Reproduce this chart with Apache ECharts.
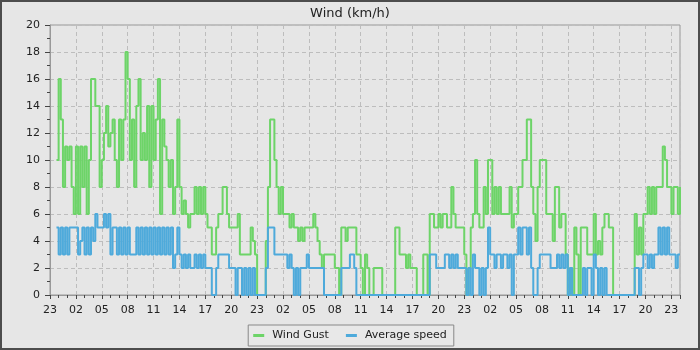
<!DOCTYPE html>
<html><head><meta charset="utf-8">
<script src="https://cdn.jsdelivr.net/npm/echarts@6/dist/echarts.min.js"></script>
<style>html,body{margin:0;padding:0;background:#e6e6e6}#c{width:700px;height:350px}</style>
</head><body><div id="c"></div>
<script>
// x is in hours after 23:00 of the first day
const startHour = 0.75;
const stepHours = 0.25;
const xMin = 0, xMax = 73;
const xTickLabels = ['23','02','05','08','11','14','17','20','23','02','05','08','11','14','17','20','23','02','05','08','11','14','17','20','23'];
const seriesNames = ['Wind Gust', 'Average speed'];

const gustValues = [
  10,
  16,13,8,11, 10,11,8,6, 11,6,11,8, 11,6,10,16, 16,14,14,8, 10,12,14,11,
  12,13,10,8, 13,10,13,18, 16,10,13,8, 14,16,10,12, 10,14,8,14, 10,13,16,6,
  13,11,10,8, 10,6,8,13, 8,6,7,6, 5,6,6,8, 6,8,6,8, 6,5,5,3,
  3,5,6,6, 8,8,6,5, 5,5,5,6, 3,3,3,3, 3,5,4,3,
  0,0,0,0, 4,8,13,13, 10,8,6,8, 6,6,6,5, 6,5,5,4, 5,4,5,5,
  5,5,6,5, 4,3,2,3, 3,3,3,3, 2,2,0,5, 5,4,5,5, 5,5,3,3,
  2,0,3,2, 0,0,2,2, 2,2,0,0, 0,0,0,0, 5,5,3,3, 3,2,3,2,
  2,2,0,0, 0,3,3,0, 6,6,5,5, 6,5,6,6, 5,5,8,6, 5,5,5,5,
  3,0,2,5, 6,10,6,5, 5,8,6,10, 10,6,8,6, 8,6,6,6, 6,8,5,6,
  6,8,8,10, 10,13,13,8, 6,4,8,10, 10,10,6,6, 6,4,8,8, 5,6,6,3,
  0,2,0,5, 3,0,5,5, 5,3,3,3, 6,3,4,3, 5,6,6,5, 5,0,0,0,
  0,0,0,0, 0,0,0,6, 3,5,3,6, 6,8,6,8, 6,8,8,8, 11,10,8,8,
  6,8,8,6,
  8
];

const avgValues = [
  5,
  3,5,3,5, 3,5,5,5, 5,3,4,5, 3,5,3,5, 4,6,5,5, 5,6,5,6,
  3,5,5,3, 5,3,5,3, 5,3,3,3, 5,3,5,3, 5,3,5,3, 5,3,5,3,
  5,3,5,3, 5,2,3,5, 3,2,3,2, 3,2,2,3, 2,3,2,3, 2,2,2,0,
  0,2,3,3, 3,3,3,2, 2,2,0,2, 2,0,2,0, 2,0,2,0,
  0,0,0,0, 2,5,5,5, 3,3,3,3, 3,3,2,3, 2,0,2,0, 2,2,2,3,
  2,2,2,2, 2,2,2,0, 0,0,0,0, 0,0,0,2, 2,2,2,3, 3,2,0,0,
  0,0,0,0, 0,0,0,0, 0,0,0,0, 0,0,0,0, 0,0,0,0, 0,0,0,0,
  0,0,0,0, 0,0,0,0, 3,3,3,2, 2,2,2,3, 3,2,3,2, 3,2,2,2,
  2,0,2,0, 3,2,2,0, 2,0,2,5, 3,3,2,3, 3,2,3,3, 2,3,0,3,
  3,5,3,5, 5,3,5,2, 0,0,2,3, 3,3,3,3, 2,2,2,3, 2,3,2,3,
  0,2,0,0, 0,0,0,2, 0,2,2,0, 3,2,0,2, 0,2,0,0, 0,0,0,0,
  0,0,0,0, 0,0,0,2, 2,0,2,3, 3,2,3,2, 3,3,5,3, 5,3,5,3,
  3,3,2,3,
  3
];

const toPairs = vals => vals.map((v, i) => [startHour + i * stepHours, v]);

const chart = echarts.init(document.getElementById('c'), null, {renderer: 'canvas'});
const font = 'DejaVu Sans';
chart.setOption({
  animation: false,
  backgroundColor: '#e6e6e6',
  title: {
    text: 'Wind (km/h)', left: 'center', top: 2,
    textStyle: {fontFamily: font, fontSize: 13, fontWeight: 'normal', color: '#222'}
  },
  legend: {
    data: seriesNames.map(n => ({name: n, icon: 'rect'})),
    top: 325, left: 'center',
    itemWidth: 11, itemHeight: 3, itemGap: 17,
    padding: [5, 7, 5, 5],
    borderColor: '#888', borderWidth: 1, backgroundColor: '#e8e8e8',
    textStyle: {fontFamily: font, fontSize: 11, color: '#222', padding: [0, 0, 0, 3]}
  },
  grid: {left: 50, right: 20, top: 25, bottom: 55, show: true, borderColor: '#999', borderWidth: 1, backgroundColor: 'transparent'},
  xAxis: {
    type: 'value', min: xMin, max: xMax, interval: 3,
    axisLine: {show: true, onZero: false, lineStyle: {color: '#999'}},
    axisTick: {show: true, length: 4, lineStyle: {color: '#444'}},
    minorTick: {show: true, splitNumber: 3, length: 3, lineStyle: {color: '#444'}},
    axisLabel: {
      showMaxLabel: false, margin: 10,
      fontFamily: font, fontSize: 11, color: '#222',
      formatter: v => xTickLabels[Math.round(v / 3)] || ''
    },
    splitLine: {show: true, lineStyle: {color: '#bdbdbd', type: [4, 3], width: 1}}
  },
  yAxis: {
    type: 'value', min: 0, max: 20, interval: 2,
    axisLine: {show: true, lineStyle: {color: '#999'}},
    axisTick: {show: true, length: 5, lineStyle: {color: '#444'}},
    minorTick: {show: true, splitNumber: 2, length: 3, lineStyle: {color: '#444'}},
    axisLabel: {margin: 10, fontFamily: font, fontSize: 11, color: '#222'},
    splitLine: {show: true, lineStyle: {color: '#bdbdbd', type: [4, 3], width: 1}}
  },
  series: [
    {name: seriesNames[0], type: 'line', step: 'end', showSymbol: false, data: toPairs(gustValues),
     color: '#6dd468', lineStyle: {width: 2, color: '#6dd468'}},
    {name: seriesNames[1], type: 'line', step: 'end', showSymbol: false, data: toPairs(avgValues),
     color: '#4eaadb', lineStyle: {width: 2, color: '#4eaadb'}}
  ],
  graphic: [{
    type: 'rect', silent: true, z: 100,
    shape: {x: 0, y: 0, width: 700, height: 350},
    style: {fill: 'none', stroke: '#4d4d4d', lineWidth: 4}
  }]
});
</script></body></html>
